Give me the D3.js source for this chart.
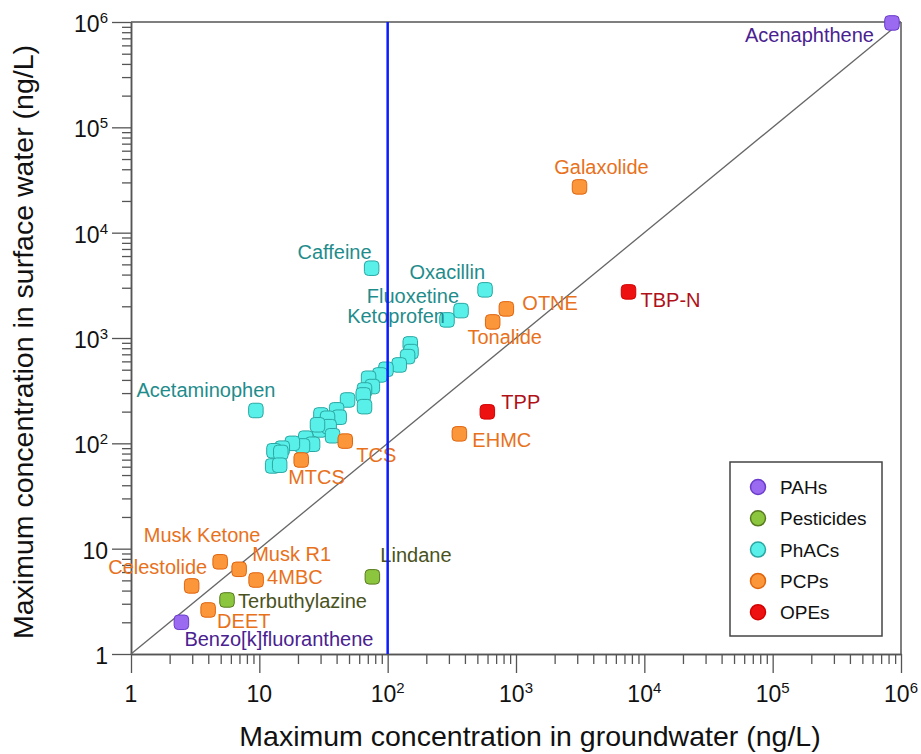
<!DOCTYPE html>
<html>
<head>
<meta charset="utf-8">
<script src="https://cdn.jsdelivr.net/npm/d3@7"></script>
<style>
  body { margin: 0; background: #fff; }
  svg { display: block; font-family: "Liberation Sans", Arial, sans-serif; }
</style>
</head>
<body>
<div id="chart"></div>
<script>
// groups shown in the legend
const groups = ["PAHs", "Pesticides", "PhACs", "PCPs", "OPEs"];

// [name, max groundwater ng/L, max surface water ng/L]
const pahs = [
  ["Acenaphthene", 850000, 980000],
  ["Benzo[k]fluoranthene", 2.47, 2.0]
];
const pesticides = [
  ["Lindane", 76, 5.4],
  ["Terbuthylazine", 5.6, 3.26]
];
const phacs = [
  ["Caffeine", 75, 4600],
  ["Oxacillin", 574, 2865],
  ["Fluoxetine", 373, 1820],
  ["Ketoprofen", 290, 1486],
  ["Acetaminophen", 9.4, 205],
  ["", 150, 879], ["", 152, 743], ["", 143, 666], ["", 123, 555],
  ["", 97, 505], ["", 87, 446], ["", 71, 415], ["", 76, 346],
  ["", 66, 321], ["", 64.5, 288], ["", 66, 223], ["", 48.7, 258],
  ["", 40, 208], ["", 41.9, 177], ["", 30.2, 186], ["", 34, 173],
  ["", 29.6, 134], ["", 35, 144], ["", 28.4, 150], ["", 37.2, 118],
  ["", 23, 112], ["", 26, 98], ["", 21.7, 94.5], ["", 18.1, 100],
  ["", 15.1, 90], ["", 13, 85], ["", 14.7, 82], ["", 12.7, 61],
  ["", 14.4, 62]
];
const pcps = [
  ["Galaxolide", 3125, 27200],
  ["OTNE", 841, 1890],
  ["Tonalide", 658, 1422],
  ["EHMC", 362, 123],
  ["TCS", 46.7, 105],
  ["MTCS", 21.2, 69.5],
  ["Musk Ketone", 4.95, 7.5],
  ["Musk R1", 6.96, 6.37],
  ["4MBC", 9.44, 5.04],
  ["Celestolide", 2.97, 4.43],
  ["DEET", 3.99, 2.62]
];
const opes = [
  ["TBP-N", 7530, 2740],
  ["TPP", 598, 199]
];
const groupData = [pahs, pesticides, phacs, pcps, opes];

const majorTicks = [1, 10, 100, 1000, 10000, 100000, 1000000];
const tickLabels = [["1", ""], ["10", ""], ["10", "2"], ["10", "3"], ["10", "4"], ["10", "5"], ["10", "6"]];
const guideX = 100; // vertical reference line at 10^2 ng/L

// label placement: [dx, dy, anchor] relative to the marker centre
const labelPos = {
  "Acenaphthene": [-18, 19, "end"],
  "Benzo[k]fluoranthene": [3, 24, "start"],
  "Lindane": [8, -15, "start"],
  "Terbuthylazine": [11, 8, "start"],
  "Caffeine": [0, -9, "end"],
  "Oxacillin": [0, -11, "end"],
  "Fluoxetine": [-2, -8, "end"],
  "Ketoprofen": [-2, 3, "end"],
  "Acetaminophen": [-50, -13, "middle"],
  "Galaxolide": [22, -13, "middle"],
  "OTNE": [16, 1, "start"],
  "Tonalide": [12, 22, "middle"],
  "EHMC": [13, 13, "start"],
  "TCS": [11, 21, "start"],
  "MTCS": [-13, 24, "start"],
  "Musk Ketone": [-18, -20, "middle"],
  "Musk R1": [13, -8, "start"],
  "4MBC": [11, 4, "start"],
  "Celestolide": [-34, -12, "middle"],
  "DEET": [9, 18, "start"],
  "TBP-N": [12, 15, "start"],
  "TPP": [14, -3, "start"]
};

const fills = ["#9a6af0", "#8cc63f", "#5af0ea", "#fb963a", "#ee1111"];
const strokes = ["#6a3ccc", "#587a1e", "#2aa7a2", "#e0650f", "#d40000"];
const labelColors = ["#4a2190", "#4a5220", "#1f8c8c", "#e8711c", "#b01018"];

const width = 921, height = 754;
const mLeft = 131, mRight = 901, mTop = 22, mBottom = 654;
const axisColor = "#555";

const svg = d3.select("#chart").append("svg")
  .attr("width", width)
  .attr("height", height);

const x = d3.scaleLog().domain([1, 1e6]).range([mLeft, mRight]);
const y = d3.scaleLog().domain([1, 1e6]).range([mBottom, mTop]);

const minorTicks = [];
for (let k = 0; k < 6; k++) {
  for (let i = 2; i <= 9; i++) minorTicks.push(i * Math.pow(10, k));
}

// frame: top and right borders
svg.append("line").attr("x1", mLeft).attr("x2", mRight).attr("y1", mTop).attr("y2", mTop)
  .attr("stroke", axisColor).attr("stroke-width", 1.5);
svg.append("line").attr("x1", mRight).attr("x2", mRight).attr("y1", mTop).attr("y2", mBottom)
  .attr("stroke", axisColor).attr("stroke-width", 1.5);

// axes: minor ticks then major ticks
function styleAxis(g) {
  g.select(".domain").attr("stroke", axisColor).attr("stroke-width", 1.5);
  g.selectAll(".tick line").attr("stroke", axisColor).attr("stroke-width", 1.3);
  g.selectAll(".tick text").remove();
}
svg.append("g").attr("transform", `translate(0,${mBottom})`)
  .call(d3.axisBottom(x).tickValues(minorTicks).tickSize(10).tickSizeOuter(0))
  .call(styleAxis);
svg.append("g").attr("transform", `translate(0,${mBottom})`)
  .call(d3.axisBottom(x).tickValues(majorTicks).tickSize(19).tickSizeOuter(0))
  .call(styleAxis);
svg.append("g").attr("transform", `translate(${mLeft},0)`)
  .call(d3.axisLeft(y).tickValues(minorTicks).tickSize(9).tickSizeOuter(0))
  .call(styleAxis);
svg.append("g").attr("transform", `translate(${mLeft},0)`)
  .call(d3.axisLeft(y).tickValues(majorTicks).tickSize(19).tickSizeOuter(0))
  .call(styleAxis);

// tick labels with superscript exponents
const xt = svg.append("g").attr("font-size", 23).attr("fill", "#111")
  .selectAll("text").data(majorTicks).join("text")
  .attr("x", d => x(d)).attr("y", 702).attr("text-anchor", "middle");
xt.append("tspan").text((d, i) => tickLabels[i][0]);
xt.append("tspan").attr("font-size", 15).attr("dy", -9).text((d, i) => tickLabels[i][1]);

const yt = svg.append("g").attr("font-size", 23).attr("fill", "#111")
  .selectAll("text").data(majorTicks).join("text")
  .attr("x", 108).attr("y", d => y(d) + 10).attr("text-anchor", "end");
yt.append("tspan").text((d, i) => tickLabels[i][0]);
yt.append("tspan").attr("font-size", 15).attr("dy", -9).text((d, i) => tickLabels[i][1]);

// axis titles
svg.append("text").attr("x", 530).attr("y", 746).attr("text-anchor", "middle")
  .attr("font-size", 28.5).attr("fill", "#111")
  .text("Maximum concentration in groundwater (ng/L)");
svg.append("text").attr("transform", "translate(33,342) rotate(-90)")
  .attr("text-anchor", "middle").attr("font-size", 28.5).attr("fill", "#111")
  .text("Maximum concentration in surface water (ng/L)");

// 1:1 line
svg.append("line")
  .attr("x1", x(1)).attr("y1", y(1)).attr("x2", x(1e6)).attr("y2", y(1e6))
  .attr("stroke", "#666").attr("stroke-width", 1.3);

// points
const points = groupData.flatMap((arr, gi) => arr.map(d => ({ name: d[0], gw: d[1], sw: d[2], g: gi })));
const s = 14.5;
svg.append("g").selectAll("rect").data(points).join("rect")
  .attr("x", d => x(d.gw) - s / 2).attr("y", d => y(d.sw) - s / 2)
  .attr("width", s).attr("height", s).attr("rx", 4)
  .attr("fill", d => fills[d.g]).attr("stroke", d => strokes[d.g]).attr("stroke-width", 1);

// labels
svg.append("g").attr("font-size", 20)
  .selectAll("text").data(points.filter(d => d.name)).join("text")
  .attr("x", d => x(d.gw) + labelPos[d.name][0])
  .attr("y", d => y(d.sw) + labelPos[d.name][1])
  .attr("text-anchor", d => labelPos[d.name][2])
  .attr("fill", d => labelColors[d.g])
  .text(d => d.name);

// vertical guide at 100 ng/L
svg.append("line").attr("x1", x(guideX)).attr("x2", x(guideX)).attr("y1", mTop).attr("y2", mBottom)
  .attr("stroke", "#0b1cff").attr("stroke-width", 2.5);

// legend
const legend = svg.append("g").attr("transform", "translate(730,462)");
legend.append("rect").attr("width", 152).attr("height", 174)
  .attr("fill", "#fff").attr("stroke", "#444").attr("stroke-width", 1.5);
const li = legend.selectAll("g").data(groups).join("g")
  .attr("transform", (d, i) => `translate(0,${25 + i * 31.3})`);
li.append("circle").attr("cx", 28).attr("r", 7.5)
  .attr("fill", (d, i) => fills[i]).attr("stroke", (d, i) => strokes[i]).attr("stroke-width", 1.5);
li.append("text").attr("x", 50).attr("y", 7).attr("font-size", 19).attr("fill", "#111")
  .text(d => d);
</script>
</body>
</html>
